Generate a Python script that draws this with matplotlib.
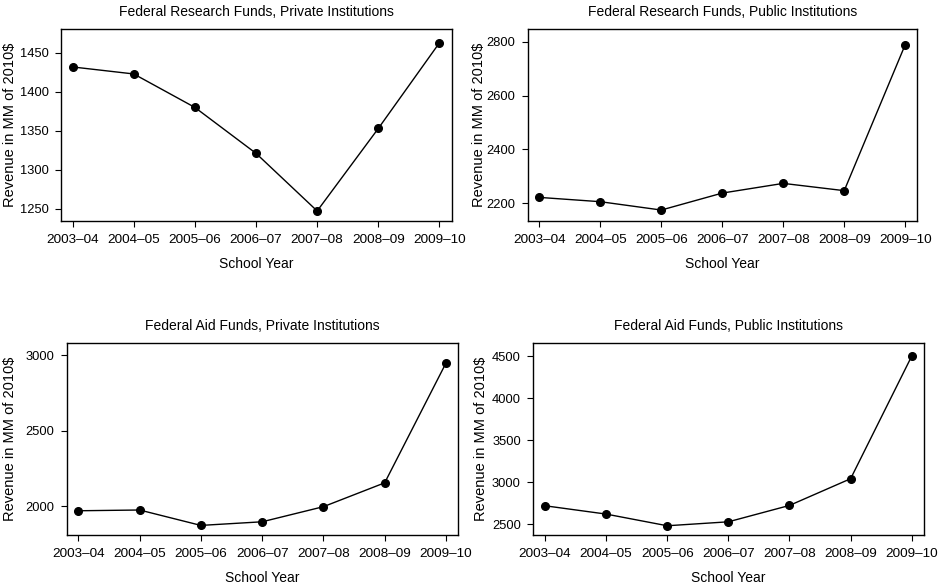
import matplotlib
matplotlib.use('Agg')
import matplotlib.pyplot as plt

plt.rcParams['font.family'] = ['Liberation Sans', 'DejaVu Sans']

years = ['2003–04', '2004–05', '2005–06', '2006–07', '2007–08', '2008–09', '2009–10']

# values (MM of 2010$)
research_private = [1432, 1423, 1380, 1321, 1247, 1353, 1463]
research_public = [2222, 2206, 2175, 2238, 2274, 2247, 2789]
aid_private = [1969, 1974, 1872, 1896, 1996, 2154, 2947]
aid_public = [2718, 2619, 2480, 2527, 2722, 3040, 4500]

titles = ['Federal Research Funds, Private Institutions',
          'Federal Research Funds, Public Institutions',
          'Federal Aid Funds, Private Institutions',
          'Federal Aid Funds, Public Institutions']
series = [research_private, research_public, aid_private, aid_public]
yticks = [[1250, 1300, 1350, 1400, 1450],
          [2200, 2400, 2600, 2800],
          [2000, 2500, 3000],
          [2500, 3000, 3500, 4000, 4500]]
ylims = [(1234, 1481), (2134, 2848), (1808, 3081), (2369, 4658)]
# axes boxes in figure fractions [left, bottom, width, height]
boxes = [[0.065, 0.624, 0.416, 0.327],
         [0.562, 0.624, 0.415, 0.327],
         [0.071, 0.090, 0.417, 0.327],
         [0.568, 0.090, 0.416, 0.327]]
ylabel_x = [-0.112, -0.106, -0.127, -0.116]

fig = plt.figure(figsize=(9.39, 5.88), dpi=100)
for i in range(4):
    ax = fig.add_axes(boxes[i])
    x = list(range(len(years)))
    ax.plot(x, series[i], color='black', lw=1.0, marker='o', ms=5.5)
    ax.set_xticks(x)
    ax.set_xticklabels(years)
    ax.set_yticks(yticks[i])
    ax.set_ylim(*ylims[i])
    ax.set_xlim(-0.19, 6.2)
    ax.set_title(titles[i], fontsize=10, pad=9)
    ax.set_xlabel('School Year', fontsize=10, labelpad=8)
    ax.set_ylabel('Revenue in MM of 2010$', fontsize=10.5)
    ax.yaxis.set_label_coords(ylabel_x[i], 0.5)
    ax.tick_params(axis='x', labelsize=9.7, length=4, pad=5, direction='out', top=False)
    ax.tick_params(axis='y', labelsize=9.3, length=4, pad=5, direction='out', right=False)
    for s in ax.spines.values():
        s.set_linewidth(1.0)

fig.savefig('out.png', dpi=100)
